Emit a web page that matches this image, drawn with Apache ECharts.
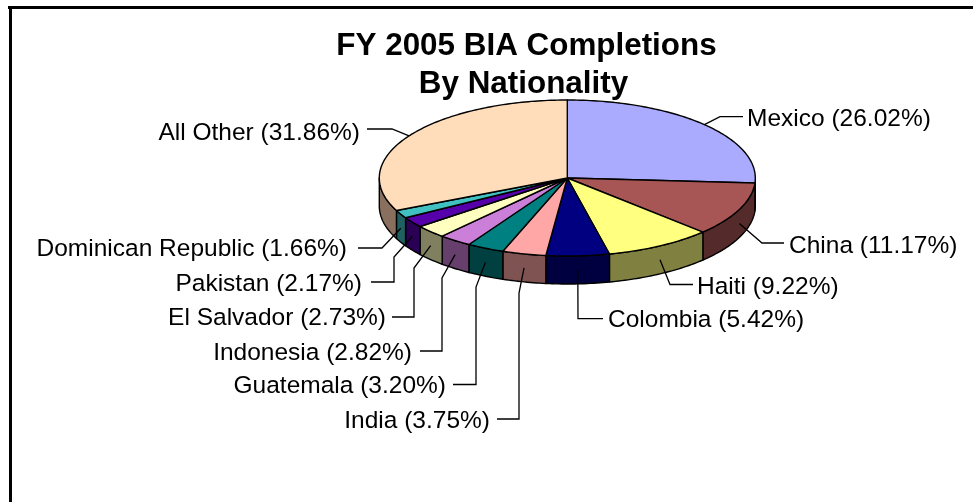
<!DOCTYPE html>
<html>
<head>
<meta charset="utf-8">
<style>html,body{margin:0;padding:0;background:#fff}#c{width:973px;height:502px}</style>
<script src="https://cdn.jsdelivr.net/npm/echarts@6/dist/echarts.min.js"></script>
</head>
<body>
<div id="c"></div>
<script>
var titleLines = ['FY 2005 BIA Completions','By Nationality'];
var categories = ['Mexico','China','Haiti','Colombia','India','Guatemala','Indonesia','El Salvador','Pakistan','Dominican Republic','All Other'];
var shares = [26.02,11.17,9.22,5.42,3.75,3.20,2.82,2.73,2.17,1.66,31.86];
var topColors = ['#AAAAFF','#A85555','#FFFF80','#000080','#FFA6A6','#008080','#CC7FD9','#FFFFC0','#5500AA','#40C0C0','#FFDDBB'];
var wallColors = ['#555580','#552A2A','#808040','#000040','#805353','#004040','#663F6C','#808060','#2A0055','#206060','#886F5E'];

// layout only: pie placement, and the elbows / label anchors of each leader
var pie = {cx:567.3, cy:178, rx:188, ry:78, depth:28};
var leaderElbows = [
  [[720,116.7],[743,116.7]],
  [[762,243],[784,243]],
  [[670,284.5],[693,284.5]],
  [[578,318.7],[603,318.7]],
  [[519,293],[519,419],[497,419]],
  [[476,287],[476,384.5],[453,384.5]],
  [[442,278],[442,351],[420,351]],
  [[414,268],[414,317],[392,317]],
  [[394,257],[394,282],[371,282]],
  [[382,248],[358,248]],
  [[392,129],[367,129]]
];
var labelAnchors = [
  [747,119,'left'],[789,246.5,'left'],[697,287.5,'left'],[608,320.5,'left'],
  [490,421.5,'right'],[446,386.5,'right'],[412,353,'right'],[386,318.5,'right'],
  [362,284.5,'right'],[347,249.5,'right'],[360,133.5,'right']
];
var total = shares.reduce(function(a,b){return a+b;},0);
var starts = [];
shares.reduce(function(acc,v,i){starts[i]=acc;return acc+v;},0);

function rim(t,dy){
  var r=t*Math.PI/180;
  return [pie.cx+pie.rx*Math.sin(r), pie.cy-pie.ry*Math.cos(r)+(dy||0)];
}
function arc(t0,t1,dy){
  var pts=[],n=Math.max(2,Math.ceil(Math.abs(t1-t0)));
  for(var i=0;i<=n;i++){pts.push(rim(t0+(t1-t0)*i/n,dy));}
  return pts;
}
function renderSlice(params,api){
  var i=params.dataIndex, v=api.value(0);
  var t0=starts[i]/total*360, t1=(starts[i]+v)/total*360, mid=(t0+t1)/2;
  var children=[];
  var a=Math.max(t0,90), b=Math.min(t1,270);
  if(b>a){
    children.push({type:'polygon',shape:{points:arc(a,b,0).concat(arc(b,a,pie.depth))},
      style:{fill:wallColors[i],stroke:'#000',lineWidth:1.4,lineJoin:'round'}});
  }
  children.push({type:'polygon',shape:{points:[[pie.cx,pie.cy]].concat(arc(t0,t1,0))},
    style:{fill:topColors[i],stroke:'#000',lineWidth:1.4,lineJoin:'round'}});
  var onWall=mid>90&&mid<270;
  var start=rim(mid,onWall?pie.depth/2:0);
  children.push({type:'polyline',z2:5,shape:{points:[start].concat(leaderElbows[i])},
    style:{fill:null,stroke:'#000',lineWidth:1.3}});
  var la=labelAnchors[i];
  children.push({type:'text',z2:6,x:la[0],y:la[1],
    style:{text:categories[i]+' ('+v.toFixed(2)+'%)',fill:'#000',
      font:'24.5px "Liberation Sans",Arial,sans-serif',align:la[2],verticalAlign:'middle'}});
  return {type:'group',children:children};
}
var titleStyle={fontFamily:'"Liberation Sans",Arial,sans-serif',fontWeight:'bold',fontSize:31.4,lineHeight:36,color:'#000'};
var chart=echarts.init(document.getElementById('c'),null,{renderer:'canvas'});
chart.setOption({
  animation:false,
  backgroundColor:'#fff',
  title:[
    {text:titleLines[0],left:521.5,top:23,textAlign:'center',textStyle:titleStyle},
    {text:titleLines[1],left:518.5,top:61,textAlign:'center',textStyle:titleStyle}
  ],
  graphic:[
    {type:'line',shape:{x1:8,y1:7.5,x2:973,y2:7.5},style:{stroke:'#000',lineWidth:3}},
    {type:'line',shape:{x1:10.5,y1:6,x2:10.5,y2:502},style:{stroke:'#000',lineWidth:3}}
  ],
  series:[{type:'custom',coordinateSystem:'none',silent:true,clip:false,renderItem:renderSlice,
    data:shares.map(function(v,i){return {name:categories[i],value:[v]};})}]
});
</script>
</body>
</html>
